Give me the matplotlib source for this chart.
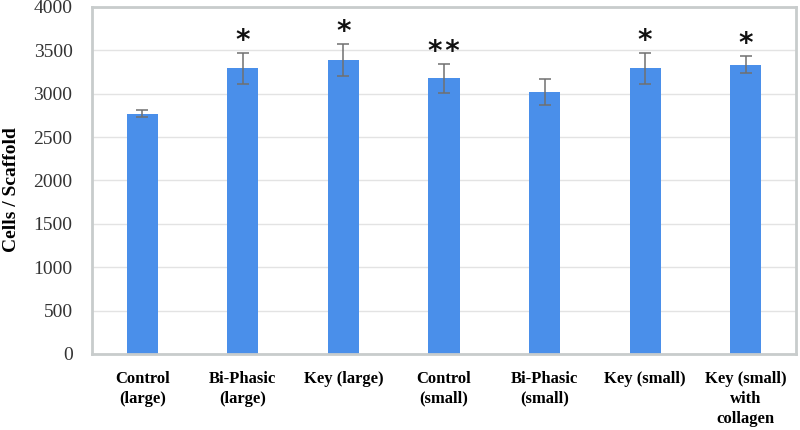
import numpy as np
import matplotlib.pyplot as plt

# Cell counts per scaffold
groups = ["Control\n(large)", "Bi-Phasic\n(large)", "Key (large)", "Control\n(small)",
          "Bi-Phasic\n(small)", "Key (small)", "Key (small)\nwith\ncollagen"]
cells = [2770, 3290, 3385, 3175, 3020, 3290, 3335]
err = [45, 177, 187, 170, 148, 177, 100]
stars = ["", "*", "*", "*\u200a*", "", "*", "*"]

serif = "Liberation Serif"

fig = plt.figure(figsize=(8, 4.3), dpi=100)
ax = fig.add_axes([0.115, 0.177, 0.88, 0.807])

x = np.arange(len(groups))
ax.bar(x, cells, width=0.31, color="#4A8FEA", zorder=2)
ax.errorbar(x, cells, yerr=err, fmt="none", ecolor="#707070", elinewidth=1.1,
            capsize=4, capthick=1.1, zorder=3)

# significance markers above the error bars
for xi, v, e, s in zip(x, cells, err, stars):
    if s:
        ax.annotate(s, (xi, v + e), xytext=(0, 3), textcoords="offset points",
                    ha="center", va="baseline", fontsize=20, fontweight="bold",
                    family="DejaVu Sans", color="#111111")

ax.set_ylim(0, 4000)
ax.set_xlim(-0.5, len(groups) - 0.5)
ax.set_yticks(np.arange(0, 4001, 500))
ax.yaxis.grid(True, color="#E3E3E3", linewidth=1, zorder=0)
ax.set_axisbelow(True)
ax.tick_params(length=0)
ax.tick_params(axis="y", pad=14, labelsize=14)
ax.tick_params(axis="x", pad=12)

ax.set_xticks(x)
ax.set_xticklabels(groups, fontsize=12, fontweight="bold", family=serif, linespacing=1.35)
for lbl in ax.get_yticklabels():
    lbl.set_family(serif)
    lbl.set_color("#333333")

for sp in ax.spines.values():
    sp.set_color("#C8CCCC")
    sp.set_linewidth(2)

fig.text(0.014, 0.56, "Cells / Scaffold", rotation=90, ha="center", va="center",
         fontsize=14, fontweight="bold", family=serif)

fig.savefig("out.png", dpi=100)
